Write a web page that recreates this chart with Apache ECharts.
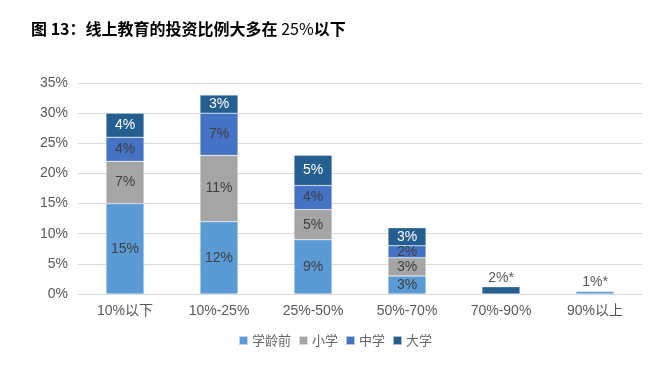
<!DOCTYPE html>
<html><head><meta charset="utf-8">
<script src="https://cdn.jsdelivr.net/npm/echarts@6/dist/echarts.min.js"></script>
<style>html,body{margin:0;padding:0;background:#fff}#c{width:670px;height:366px}</style>
</head><body><div id="c"></div>
<script>
var categories = ['10%以下','10%-25%','25%-50%','50%-70%','70%-90%','90%以上'];
var preschool = [15, 12, 9, 3, 0, 0.5];
var primary   = [7, 11, 5, 3, 0, 0];
var middle    = [4, 7, 4, 2, 0, 0];
var college   = [4, 3, 5, 3, 1.2, 0];
var noteLabels = {'70%-90%': '2%*', '90%以上': '1%*'};
var yTicks = [0,5,10,15,20,25,30,35];

var chart = echarts.init(document.getElementById('c'));
function mk(name, arr, color, labelColor, noteOnThis) {
  return {
    name: name, type: 'bar', stack: 'a', barWidth: 38,
    itemStyle: {color: color, borderColor: 'rgba(255,255,255,0.6)', borderWidth: 0.5},
    label: {show: true, position: 'inside', color: labelColor, fontSize: 14, fontFamily: 'Liberation Sans, Arial, sans-serif',
      formatter: function(p){ return p.value >= 2 ? p.value + '%' : ''; }},
    data: arr.map(function(v, i){
      var c = categories[i];
      if (noteOnThis[c] && v > 0) {
        return {value: v, label: {show: true, position: 'top', distance: 2, color: '#595959', fontSize: 14, formatter: noteOnThis[c]}};
      }
      return v;
    })
  };
}
var colNote = {'70%-90%': noteLabels['70%-90%']};
var preNote = {'90%以上': noteLabels['90%以上']};
chart.setOption({
  animation: false,
  title: {
    text: '{b|图 13：线上教育的投资比例大多在 }{n|25%}{b|以下}',
    left: 26, top: 13,
    textStyle: {rich: {
      b: {fontSize: 16, fontWeight: 'bold', color: '#000', fontFamily: 'Noto Sans CJK SC', height: 22, lineHeight: 22},
      n: {fontSize: 16, fontWeight: 'normal', color: '#000', fontFamily: 'Noto Sans CJK SC', height: 22, lineHeight: 22}
    }}
  },
  legend: {
    bottom: 14, left: 'center', itemWidth: 9, itemHeight: 9, itemGap: 7,
    icon: 'rect',
    textStyle: {color: '#666', fontSize: 13, fontFamily: 'Noto Sans CJK SC', padding: [0,0,0,-1]},
    data: ['学龄前','小学','中学','大学']
  },
  grid: {left: 78, right: 28, top: 83, bottom: 72},
  xAxis: {
    type: 'category', data: categories,
    axisLine: {lineStyle: {color: '#d9d9d9'}}, axisTick: {show: false},
    axisLabel: {color: '#595959', fontSize: 14, margin: 10, fontFamily: 'Liberation Sans, Noto Sans CJK SC'}
  },
  yAxis: {
    type: 'value', min: yTicks[0], max: yTicks[yTicks.length-1], interval: 5,
    axisLine: {show: false}, axisTick: {show: false},
    splitLine: {lineStyle: {color: '#d9d9d9'}},
    axisLabel: {color: '#595959', fontSize: 14, margin: 10, fontFamily: 'Liberation Sans, Arial', formatter: '{value}%'}
  },
  series: [
    mk('学龄前', preschool, '#5B9BD5', '#404040', preNote),
    mk('小学', primary, '#A5A5A5', '#404040', {}),
    mk('中学', middle, '#4472C4', '#404040', {}),
    mk('大学', college, '#255E91', '#ffffff', colNote)
  ]
});
</script></body></html>
